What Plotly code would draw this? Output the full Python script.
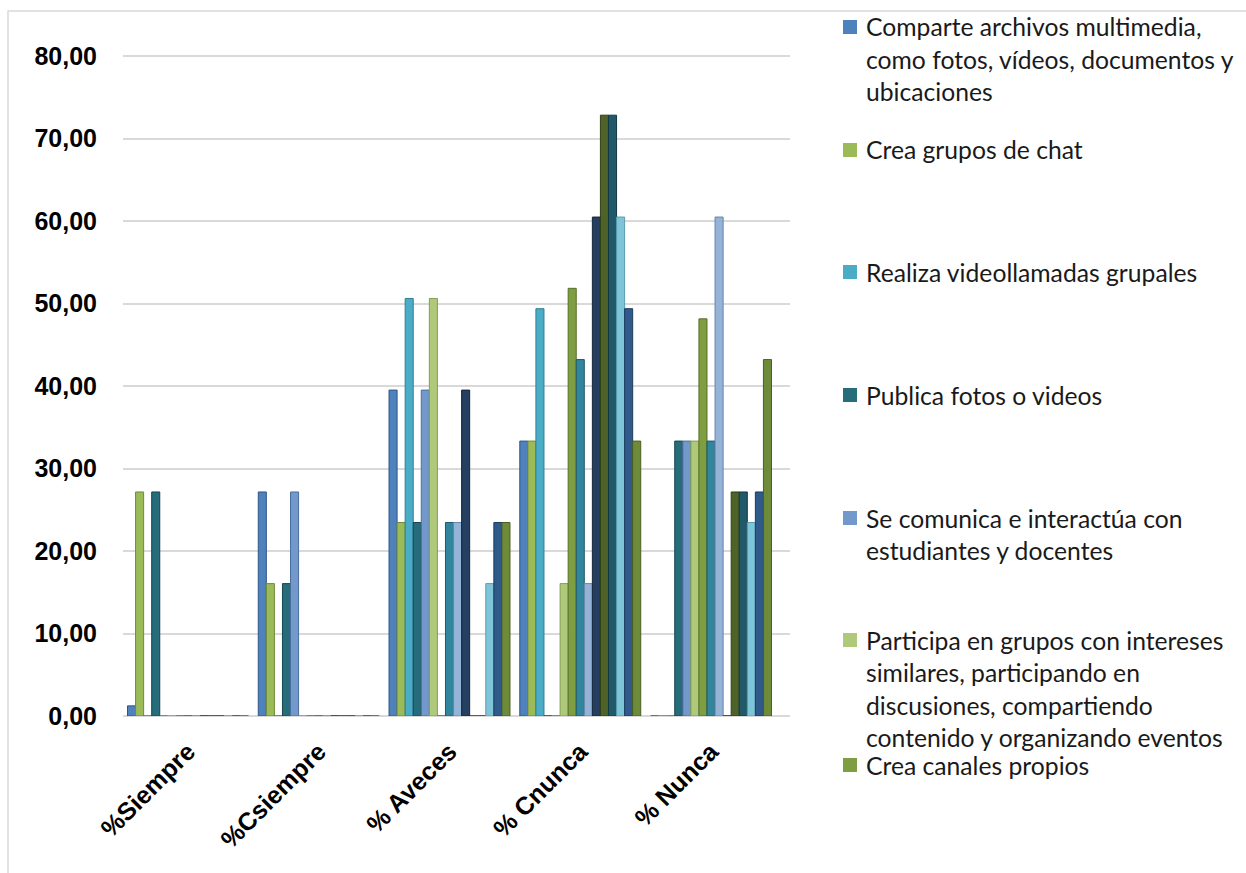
import plotly.graph_objects as go

# Categories on the x axis
categories = ["%Siempre", "%Csiempre", "% Aveces", "% Cnunca", "% Nunca"]

# Series names (only the first seven appear in the key)
series_names = [
    "Comparte archivos multimedia, como fotos, vídeos, documentos y ubicaciones",
    "Crea grupos de chat",
    "Realiza videollamadas grupales",
    "Publica fotos o videos",
    "Se comunica e interactúa con estudiantes y docentes",
    "Participa en grupos con intereses similares, participando en discusiones, compartiendo contenido y organizando eventos",
    "Crea canales propios",
    "Serie 8", "Serie 9", "Serie 10", "Serie 11", "Serie 12",
    "Serie 13", "Serie 14", "Serie 15",
]

# Percentages per series, one value per category
s01 = [1.23, 27.16, 39.51, 33.33, 0.00]
s02 = [27.16, 16.05, 23.46, 33.33, 0.00]
s03 = [0.00, 0.00, 50.62, 49.38, 0.00]
s04 = [27.16, 16.05, 23.46, 0.00, 33.33]
s05 = [0.00, 27.16, 39.51, 0.00, 33.33]
s06 = [0.00, 0.00, 50.62, 16.05, 33.33]
s07 = [0.00, 0.00, 0.00, 51.85, 48.15]
s08 = [0.00, 0.00, 23.46, 43.21, 33.33]
s09 = [0.00, 0.00, 23.46, 16.05, 60.49]
s10 = [0.00, 0.00, 39.51, 60.49, 0.00]
s11 = [0.00, 0.00, 0.00, 72.84, 27.16]
s12 = [0.00, 0.00, 0.00, 72.84, 27.16]
s13 = [0.00, 0.00, 16.05, 60.49, 23.46]
s14 = [0.00, 0.00, 23.46, 49.38, 27.16]
s15 = [0.00, 0.00, 23.46, 33.33, 43.21]
series_values = [s01, s02, s03, s04, s05, s06, s07, s08,
                 s09, s10, s11, s12, s13, s14, s15]

# Y axis ticks
y_ticks = [0, 10, 20, 30, 40, 50, 60, 70, 80]

# Key text, already wrapped into lines
legend_lines = [
    ["Comparte archivos multimedia,", "como fotos, vídeos, documentos y", "ubicaciones"],
    ["Crea grupos de chat"],
    ["Realiza videollamadas grupales"],
    ["Publica fotos o videos"],
    ["Se comunica e interactúa con", "estudiantes y docentes"],
    ["Participa en grupos con intereses", "similares, participando en",
     "discusiones, compartiendo", "contenido y organizando eventos"],
    ["Crea canales propios"],
]

colors = ["#4F81BD", "#9BBB59", "#4BACC6", "#266C7A", "#7399CC", "#AFC97A",
          "#7F9E41", "#31859C", "#95B3D7", "#243F60", "#4F6228", "#215968",
          "#7FC5D8", "#2F5A8A", "#6E8B3A"]
edges = ["#2E5585", "#6F8A35", "#2E7E93", "#154550", "#4B6E9C", "#849F52",
         "#566F27", "#1D5A6B", "#6685AA", "#15273D", "#313E17", "#123944",
         "#5A9CB0", "#1C3C60", "#4A5F25"]

W, H = 1246, 873
L, R, T, B = 123, 790, 52, 716


def px(x):
    return (x - L) / (R - L)


def py(y):
    return (B - y) / (B - T)


fig = go.Figure()
for name, vals, c, e in zip(series_names, series_values, colors, edges):
    fig.add_trace(go.Bar(
        x=categories, y=vals, name=name, showlegend=False,
        marker=dict(color=c, line=dict(color=e, width=1)),
    ))

shapes = [
    # chart frame
    dict(type="rect", xref="paper", yref="paper",
         x0=px(8), x1=px(1300), y0=py(900), y1=py(11),
         line=dict(color="#D9D9D9", width=1.5), fillcolor="rgba(0,0,0,0)",
         layer="below"),
]
annotations = []

# key entries: first-line centre y for each entry
entry_y = [27, 150, 272, 395, 518, 640, 765]
line_step = 32.5
for i, (lines, y0) in enumerate(zip(legend_lines, entry_y)):
    shapes.append(dict(type="rect", xref="paper", yref="paper",
                       x0=px(843), x1=px(857), y0=py(y0 + 7), y1=py(y0 - 7),
                       line=dict(width=0), fillcolor=colors[i]))
    for k, txt in enumerate(lines):
        annotations.append(dict(
            xref="paper", yref="paper", x=px(864), y=py(y0 + k * line_step),
            xanchor="left", yanchor="middle", text=txt, showarrow=False,
            font=dict(family="Lato", size=24.7, color="#1A1A1A"),
        ))

fig.update_layout(
    width=W, height=H,
    margin=dict(l=L, r=W - R, t=T, b=H - B),
    paper_bgcolor="white", plot_bgcolor="white",
    barmode="group", bargap=0.075, bargroupgap=0,
    separators=", ",
    shapes=shapes, annotations=annotations,
    showlegend=False,
    xaxis=dict(
        range=[-0.497, 4.604],
        tickangle=-45, showgrid=False, showline=False, zeroline=False,
        tickfont=dict(family="Liberation Sans", size=25, color="black",
                      weight="bold"),
        ticklabelstandoff=15,
    ),
    yaxis=dict(
        range=[0, 80.5], tickvals=y_ticks, tickformat=".2f",
        showgrid=True, gridcolor="#D9D9D9", gridwidth=2,
        zeroline=True, zerolinecolor="#D9D9D9", zerolinewidth=2,
        showline=False,
        tickfont=dict(family="Liberation Sans", size=25, color="black",
                      weight="bold"),
        ticklabelstandoff=25,
    ),
)

fig.write_html("out.html")
